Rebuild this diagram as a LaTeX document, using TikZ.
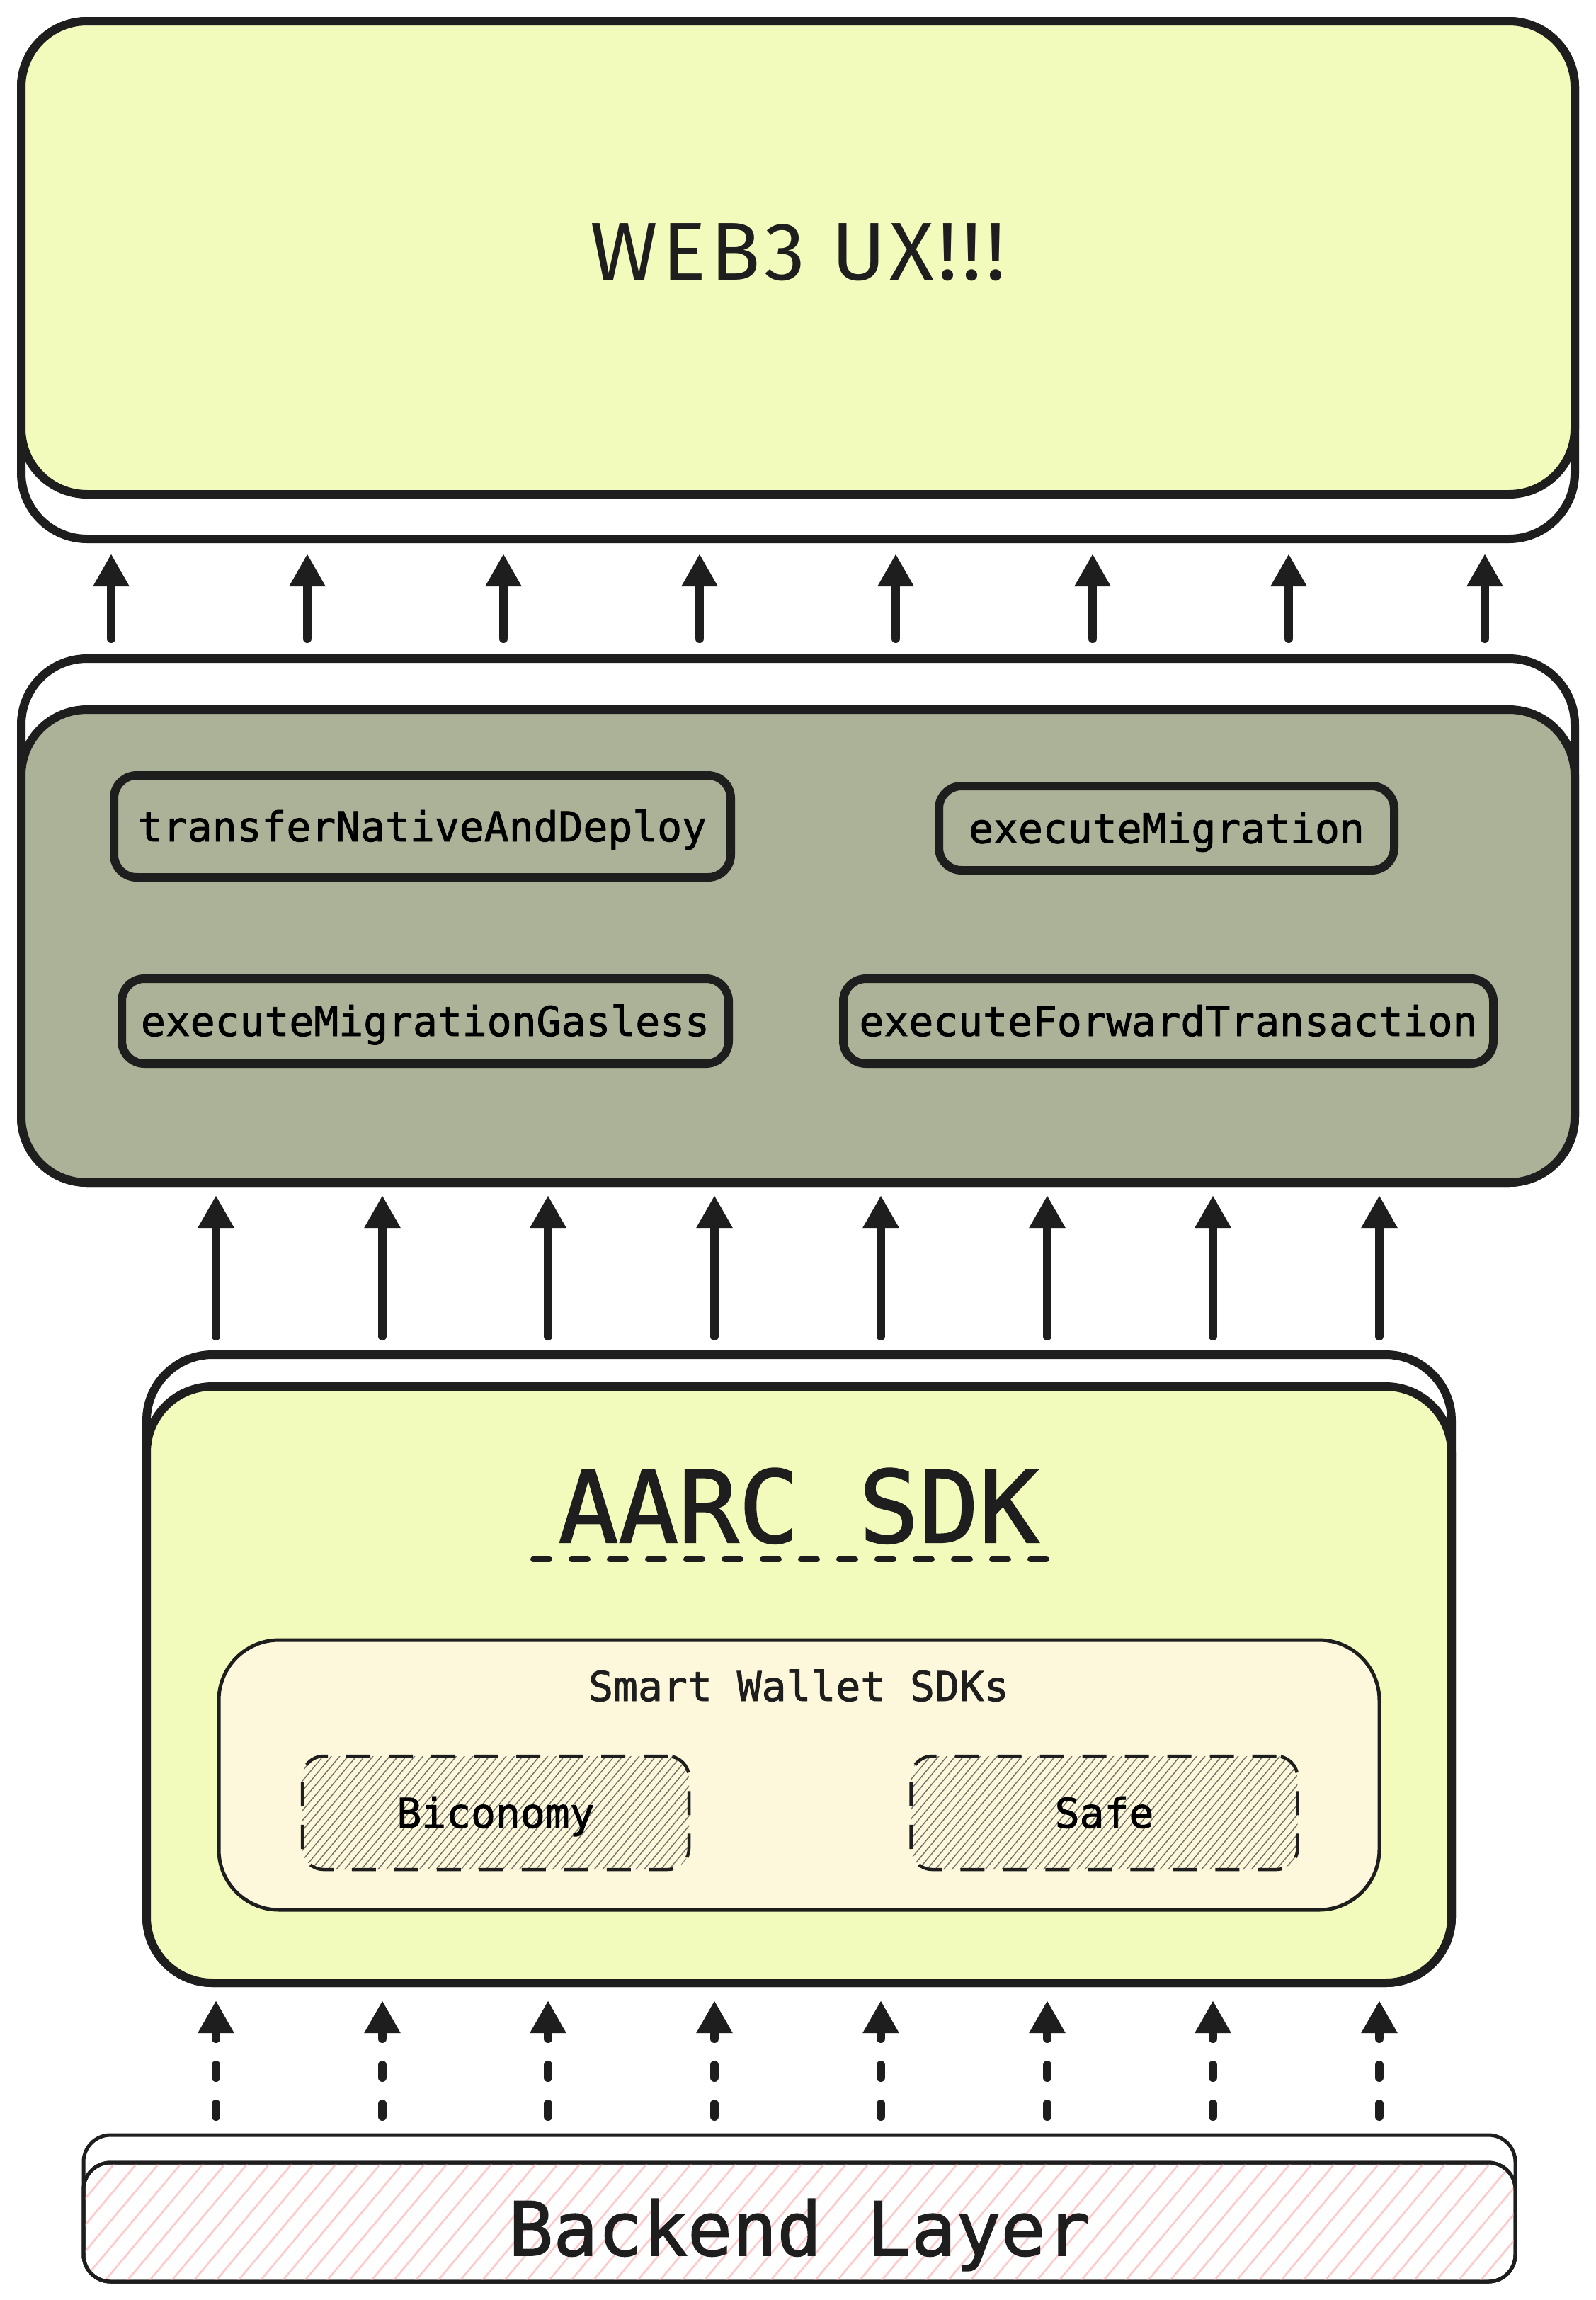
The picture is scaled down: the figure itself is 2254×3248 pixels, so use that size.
\documentclass[tikz,border=0pt]{standalone}
\usepackage{fontspec}
\newfontfamily\codefont[FakeBold=1.5]{DejaVu Sans Mono}
\newfontfamily\handfont[LetterSpace=5]{Fira Sans}
\usetikzlibrary{arrows.meta,patterns.meta}
\definecolor{ink}{HTML}{1E1E1E}
\definecolor{lime}{HTML}{F2FABC}
\definecolor{sage}{HTML}{ABB297}
\definecolor{cream}{HTML}{FDF8DB}
\definecolor{pinkhatch}{HTML}{FFC9C9}
\definecolor{grayhatch}{HTML}{6E6E64}
\begin{document}
\begin{tikzpicture}[x=1pt,y=-1pt,
  layer/.style={draw=ink, line width=12pt, rounded corners=93pt, inner sep=0pt, outer sep=0pt},
  backline/.style={layer, fill=white},
  fnbox/.style={draw=ink, line width=12pt, rounded corners=32pt, fill=sage, inner sep=0pt,
    font=\fontsize{58}{60}\selectfont\codefont, text height=42pt, text depth=0pt},
  walletbox/.style={draw=ink, line width=4.5pt, rounded corners=30pt, inner sep=0pt,
    dash pattern=on 34pt off 26pt,
    pattern={Lines[angle=50,distance=9pt,line width=1.4pt]}, pattern color=grayhatch,
    font=\fontsize{58}{60}\selectfont\codefont, text height=42pt, text depth=0pt,
    minimum width=546pt, minimum height=160pt},
  arr/.style={draw=ink, line width=12pt, line cap=round, -{Triangle[length=46pt,width=48pt]}},
  darr/.style={arr, dash pattern=on 18pt off 37pt},
  lbl/.style={inner sep=0pt, anchor=base, text=ink}
]
\useasboundingbox (0,0) rectangle (2254,3248);
\fill[white] (0,0) rectangle (2254,3248);

% ---------- top layer: WEB3 UX ----------
\node[backline, minimum width=2194pt, minimum height=731pt] (uxback) at (1127,395.5) {};
\node[layer, fill=lime, minimum width=2194pt, minimum height=668pt] (ux) at (1127,364) {};
\node[lbl, font=\handfont\fontsize{116}{116}\selectfont] (uxtext) at (1127,395) {WEB3 UX!!!};

% ---------- middle layer: functions ----------
\node[backline, minimum width=2194pt, minimum height=740pt] (fnback) at (1127,1300) {};
\node[layer, fill=sage, minimum width=2194pt, minimum height=668pt] (fns) at (1127,1336) {};
\node[fnbox, minimum width=871pt, minimum height=144pt] (tnad) at (596.5,1167) {transferNativeAndDeploy};
\node[fnbox, minimum width=643pt, minimum height=119pt] (em) at (1647.5,1169.5) {executeMigration};
\node[fnbox, minimum width=857pt, minimum height=120pt] (emg) at (600.5,1442) {executeMigrationGasless};
\node[fnbox, minimum width=918pt, minimum height=120pt] (eft) at (1650,1442) {executeForwardTransaction};

% ---------- AARC SDK layer ----------
\node[backline, minimum width=1843pt, minimum height=887pt] (sdkback) at (1128.5,2356.5) {};
\node[layer, fill=lime, minimum width=1843pt, minimum height=842pt] (sdk) at (1128.5,2379) {};
\node[lbl, font=\codefont\fontsize{141}{141}\selectfont] (sdktitle) at (1128,2178) {AARC SDK};
\coordinate (ulA) at (753,2202);
\coordinate (ulB) at (1485,2202);
\draw[ink, line width=8pt, line cap=round, dash pattern=on 23pt off 31pt] (ulA) -- (ulB);

\node[draw=ink, line width=5pt, fill=cream, rounded corners=85pt, inner sep=0pt,
  minimum width=1639pt, minimum height=381pt] (wallets) at (1128.5,2506.5) {};
\node[lbl, font=\codefont\fontsize{58}{60}\selectfont] (wallettitle) at (1128,2402) {Smart Wallet SDKs};
\node[walletbox] (biconomy) at (700,2560) {Biconomy};
\node[walletbox] (safe) at (1559.5,2560) {Safe};

% ---------- Backend layer ----------
\node[draw=ink, line width=5pt, fill=white, rounded corners=38pt, inner sep=0pt,
  minimum width=2022pt, minimum height=207pt] (beback) at (1129,3118.5) {};
\node[draw=ink, line width=5pt, fill=white, rounded corners=38pt, inner sep=0pt,
  minimum width=2022pt, minimum height=168pt] (beframe) at (1129,3138) {};
\node[draw=ink, line width=5pt, rounded corners=38pt, inner sep=0pt,
  pattern={Lines[angle=50,distance=24pt,line width=2.6pt]}, pattern color=pinkhatch,
  minimum width=2022pt, minimum height=168pt] (backend) at (1129,3138) {};
\node[lbl, font=\codefont\fontsize{105}{105}\selectfont] (betext) at (1129,3185) {Backend Layer};

% ---------- arrows: functions -> WEB3 UX ----------
\foreach \i/\x in {0/157,1/434,2/711,3/988,4/1265,5/1543,6/1820,7/2097} {
  \coordinate (pa\i) at (\x,902);
  \coordinate (pb\i) at (\x,782);
  \draw[arr] (pa\i) -- (pb\i);
}
% ---------- arrows: SDK -> functions ----------
\foreach \i/\x in {0/305,1/540,2/774,3/1009,4/1244,5/1479,6/1713,7/1948} {
  \coordinate (qa\i) at (\x,1887);
  \coordinate (qb\i) at (\x,1688);
  \draw[arr] (qa\i) -- (qb\i);
}
% ---------- dashed arrows: backend -> SDK ----------
\foreach \i/\x in {0/305,1/540,2/774,3/1009,4/1244,5/1479,6/1713,7/1948} {
  \coordinate (ra\i) at (\x,2989);
  \coordinate (rb\i) at (\x,2825);
  \draw[darr] (ra\i) -- (rb\i);
}
\end{tikzpicture}
\end{document}
